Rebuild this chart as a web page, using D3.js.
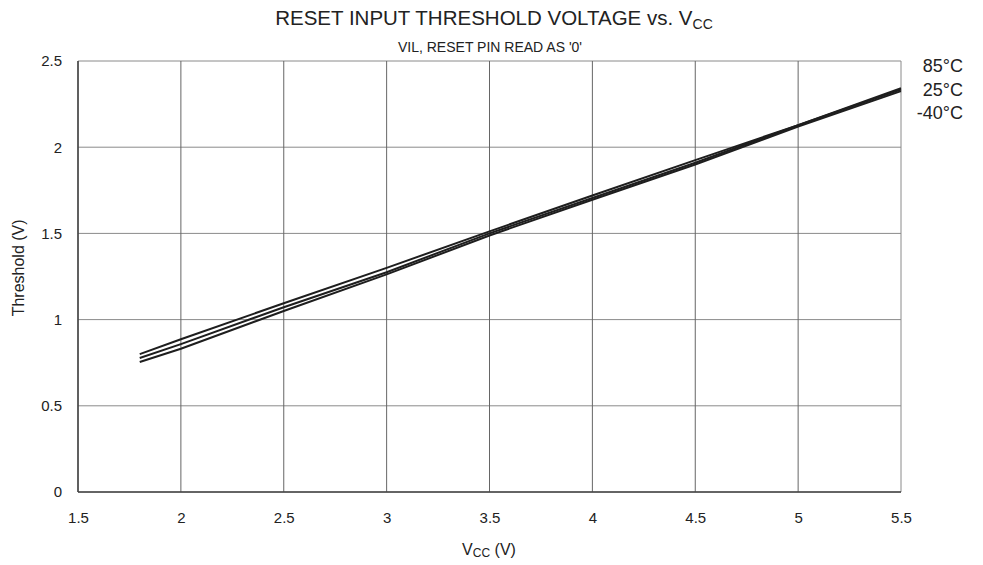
<!DOCTYPE html>
<html>
<head>
<meta charset="utf-8">
<script src="https://cdn.jsdelivr.net/npm/d3@7"></script>
<style>
  body { margin: 0; background: #fff; }
  svg text { font-family: "Liberation Sans", Arial, sans-serif; fill: #222; }
</style>
</head>
<body>
<div id="chart"></div>
<script>
// readings from the reference curve
var vcc = [1.8, 2.0, 2.5, 3.0, 3.5, 4.0, 4.5, 5.0, 5.5];
var t85 = [0.800, 0.886, 1.095, 1.300, 1.512, 1.720, 1.925, 2.128, 2.342];
var t25 = [0.777, 0.858, 1.072, 1.275, 1.500, 1.705, 1.910, 2.128, 2.335];
var tm40 = [0.754, 0.831, 1.050, 1.262, 1.488, 1.695, 1.900, 2.120, 2.325];
var seriesNames = ["85°C", "25°C", "-40°C"];
var xTicks = [1.5, 2, 2.5, 3, 3.5, 4, 4.5, 5, 5.5];
var yTicks = [0, 0.5, 1, 1.5, 2, 2.5];

var width = 983, height = 565;
var margin = {top: 61, right: 82, bottom: 73, left: 78};

var svg = d3.select("#chart").append("svg")
	.attr("width", width)
	.attr("height", height);

var x = d3.scaleLinear().domain([1.5, 5.5]).range([margin.left, width - margin.right]);
var y = d3.scaleLinear().domain([0, 2.5]).range([height - margin.bottom, margin.top]);

// grid
svg.append("g").selectAll("line")
	.data(yTicks)
	.enter().append("line")
	.attr("x1", x(1.5)).attr("x2", x(5.5))
	.attr("y1", d => y(d)).attr("y2", d => y(d))
	.attr("stroke", "#8a8a8a").attr("stroke-width", 1);

svg.append("g").selectAll("line")
	.data(xTicks)
	.enter().append("line")
	.attr("x1", d => x(d)).attr("x2", d => x(d))
	.attr("y1", y(0)).attr("y2", y(2.5))
	.attr("stroke", d => (d == 5.5 ? "#8a8a8a" : "#666")).attr("stroke-width", 1);

// left and bottom frame darker
svg.append("line")
	.attr("x1", x(1.5)).attr("x2", x(1.5)).attr("y1", y(0)).attr("y2", y(2.5))
	.attr("stroke", "#444").attr("stroke-width", 1.5);
svg.append("line")
	.attr("x1", x(1.5)).attr("x2", x(5.5)).attr("y1", y(0)).attr("y2", y(0))
	.attr("stroke", "#444").attr("stroke-width", 1.5);

// axes (labels only)
var xAxis = svg.append("g")
	.attr("transform", "translate(0," + (y(0) + 17) + ")")
	.call(d3.axisBottom(x).tickValues(xTicks).tickSize(0).tickFormat(d3.format("")));
xAxis.select(".domain").remove();
xAxis.selectAll("text").attr("font-size", 15).attr("font-family", null).attr("fill", "#222");

var yAxis = svg.append("g")
	.attr("transform", "translate(" + (x(1.5) - 13) + ",0)")
	.call(d3.axisLeft(y).tickValues(yTicks).tickSize(0).tickFormat(d3.format("")));
yAxis.select(".domain").remove();
yAxis.selectAll("text").attr("font-size", 15).attr("font-family", null).attr("fill", "#222");

// curves
var lineGen = d3.line()
	.x((d, i) => x(vcc[i]))
	.y(d => y(d));

svg.append("g").selectAll("path")
	.data([t85, t25, tm40])
	.enter().append("path")
	.attr("d", lineGen)
	.attr("fill", "none")
	.attr("stroke", "#1e1e1e")
	.attr("stroke-width", 2);

// series labels
svg.append("g").selectAll("text")
	.data(seriesNames)
	.enter().append("text")
	.attr("x", 963)
	.attr("y", (d, i) => 72 + i * 23.5)
	.attr("text-anchor", "end")
	.attr("font-size", 18)
	.text(d => d);

// titles
var title = svg.append("text")
	.attr("x", 494).attr("y", 25)
	.attr("text-anchor", "middle")
	.attr("font-size", 20.5);
title.append("tspan").text("RESET INPUT THRESHOLD VOLTAGE vs. V");
title.append("tspan").attr("font-size", 14).attr("dy", 4).text("CC");

svg.append("text")
	.attr("x", 490).attr("y", 52)
	.attr("text-anchor", "middle")
	.attr("font-size", 14)
	.text("VIL, RESET PIN READ AS '0'");

var xl = svg.append("text")
	.attr("x", 489).attr("y", 555)
	.attr("text-anchor", "middle")
	.attr("font-size", 16);
xl.append("tspan").text("V");
xl.append("tspan").attr("font-size", 12).attr("dy", 2).text("CC");
xl.append("tspan").attr("dy", -2).text(" (V)");

svg.append("text")
	.attr("transform", "translate(24," + y(1.3) + ") rotate(-90)")
	.attr("text-anchor", "middle")
	.attr("font-size", 16)
	.text("Threshold (V)");
</script>
</body>
</html>
